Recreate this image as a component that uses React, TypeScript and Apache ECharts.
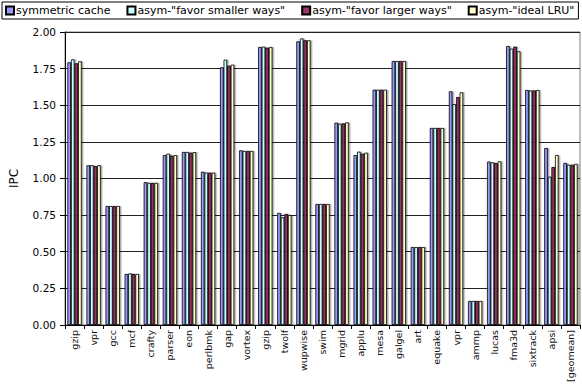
import React, { useEffect, useRef } from "react";
import * as echarts from "echarts";

const categories = ["gzip","vpr","gcc","mcf","crafty","parser","eon","perlbmk","gap","vortex","gzip","twolf","wupwise","swim","mgrid","applu","mesa","galgel","art","equake","vpr","ammp","lucas","fma3d","sixtrack","apsi","[geomean]"];

const symmetric = [1.793,1.09,0.812,0.348,0.975,1.16,1.181,1.046,1.759,1.192,1.898,0.765,1.936,0.826,1.381,1.16,1.606,1.802,0.532,1.345,1.595,0.164,1.115,1.904,1.604,1.208,1.106];
const favorSmaller = [1.813,1.09,0.812,0.352,0.97,1.169,1.181,1.04,1.811,1.188,1.9,0.735,1.956,0.826,1.374,1.183,1.606,1.802,0.532,1.345,1.508,0.164,1.11,1.886,1.601,1.012,1.094];
const favorLarger = [1.786,1.085,0.812,0.348,0.97,1.156,1.176,1.04,1.77,1.188,1.893,0.758,1.943,0.826,1.376,1.169,1.606,1.802,0.532,1.345,1.556,0.164,1.106,1.9,1.601,1.078,1.094];
const idealLRU = [1.8,1.09,0.812,0.348,0.97,1.16,1.18,1.04,1.777,1.188,1.898,0.751,1.943,0.826,1.383,1.176,1.606,1.802,0.532,1.345,1.588,0.164,1.117,1.868,1.604,1.16,1.1];

const seriesNames = ["symmetric cache", 'asym-"favor smaller ways"', 'asym-"favor larger ways"', 'asym-"ideal LRU"'];
const seriesColors = ["#9999FF", "#CCFFFF", "#993366", "#FFFFCC"];
const seriesData = [symmetric, favorSmaller, favorLarger, idealLRU];

const FONT = "DejaVu Sans, Verdana, sans-serif";

export default function App() {
  const ref = useRef<HTMLDivElement>(null);
  useEffect(() => {
    if (!ref.current) return;
    const chart = echarts.init(ref.current, undefined, { renderer: "svg" });
    chart.setOption({
      animation: false,
      backgroundColor: "#ffffff",
      textStyle: { fontFamily: FONT },
      legend: {
        left: 2,
        top: 2,
        width: 575,
        padding: [3, 4, 3, 3],
        borderColor: "#000",
        borderWidth: 1,
        itemWidth: 8,
        itemHeight: 8,
        itemGap: 16,
        icon: "rect",
        textStyle: { fontFamily: FONT, fontSize: 11, color: "#000", padding: [0, 0, 0, -3] },
        data: seriesNames,
      },
      grid: {
        left: 63,
        right: 2,
        top: 32,
        bottom: 60,
        show: true,
        borderColor: "#808080",
        borderWidth: 1,
      },
      xAxis: {
        type: "category",
        data: categories,
        axisLine: { lineStyle: { color: "#000" } },
        axisTick: { show: true, length: 4, lineStyle: { color: "#000" } },
        axisLabel: { rotate: 90, fontSize: 9.5, color: "#111", fontFamily: FONT, margin: 5 },
      },
      yAxis: {
        type: "value",
        min: 0,
        max: 2,
        interval: 0.25,
        name: "IPC",
        nameLocation: "middle",
        nameGap: 45,
        nameTextStyle: { fontSize: 12, color: "#000", fontFamily: FONT },
        axisLine: { show: true, lineStyle: { color: "#000" } },
        axisTick: { show: true, length: 5, lineStyle: { color: "#000" } },
        axisLabel: { fontSize: 10.5, color: "#000", fontFamily: FONT, margin: 9, formatter: (v: number) => v.toFixed(2) },
        splitLine: { show: true, lineStyle: { color: "#222", width: 1 } },
      },
      series: seriesData.map((d, i) => ({
        name: seriesNames[i],
        type: "bar",
        data: d,
        barGap: "0%",
        barCategoryGap: "25%",
        itemStyle: {
          color: seriesColors[i],
          borderColor: "#000",
          borderWidth: 0.8,
          shadowColor: "rgba(0,0,0,0.35)",
          shadowOffsetX: 1.5,
          shadowOffsetY: 0,
          shadowBlur: 0,
        },
      })),
    });
    return () => chart.dispose();
  }, []);
  return <div ref={ref} style={{ position: "fixed", left: 0, top: 0, width: 582, height: 385 }} />;
}
